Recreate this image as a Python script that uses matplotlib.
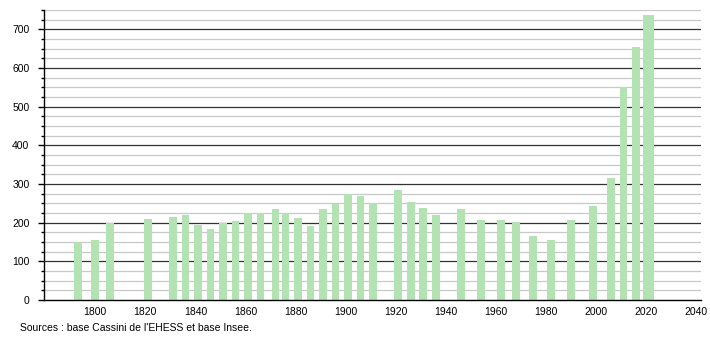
import matplotlib
matplotlib.use("Agg")
from matplotlib import pyplot as plt
from matplotlib.ticker import MultipleLocator

# census years and population
years = [1793, 1800, 1806, 1821, 1831, 1836, 1841, 1846, 1851, 1856, 1861, 1866,
         1872, 1876, 1881, 1886, 1891, 1896, 1901, 1906, 1911, 1921, 1926, 1931,
         1936, 1946, 1954, 1962, 1968, 1975, 1982, 1990, 1999, 2006, 2011, 2016, 2021]
population = [150, 156, 199, 210, 215, 219, 195, 184, 199, 205, 226, 226,
              236, 224, 213, 192, 235, 248, 274, 270, 252, 285, 254, 239,
              221, 236, 208, 208, 202, 166, 156, 208, 244, 316, 550, 654, 737]
x_ticks = [1800, 1820, 1840, 1860, 1880, 1900, 1920, 1940, 1960, 1980, 2000, 2020, 2040]
y_ticks = [0, 100, 200, 300, 400, 500, 600, 700]
source = "Sources : base Cassini de l'EHESS et base Insee."

plt.rcParams['font.family'] = ['Liberation Sans', 'DejaVu Sans']
plt.rcParams['font.size'] = 7.5

fig = plt.figure(figsize=(7.1, 3.4), dpi=100)
ax = fig.add_axes([44 / 710, 40 / 340, 657 / 710, 290 / 340])

# last bar is a bit wider in the original
widths = [3.1] * (len(years) - 1) + [4.3]
ax.bar(years, population, width=widths, color='#b3e3b3', linewidth=0, zorder=5)

ax.set_xlim(1779.5, 2042)
ax.set_ylim(0, 750)
ax.set_xticks(x_ticks)
ax.set_yticks(y_ticks)
ax.yaxis.set_minor_locator(MultipleLocator(25))

# grid lines drawn by hand so the bars sit on top: light every 25, dark every 100
minor = [v for v in ax.yaxis.get_minorticklocs() if 0 < v <= 750]
ax.hlines(minor, 0, 1, transform=ax.get_yaxis_transform(), color='#c8c8c8', linewidth=0.9, zorder=1)
ax.hlines(y_ticks[1:], 0, 1, transform=ax.get_yaxis_transform(), color='#333333', linewidth=0.9, zorder=2)

for s in ['top', 'right']:
    ax.spines[s].set_visible(False)
ax.spines['left'].set_linewidth(1)
ax.spines['bottom'].set_linewidth(1)
ax.spines['bottom'].set_zorder(6)

ax.tick_params(axis='x', length=0, pad=5)
ax.tick_params(axis='y', which='major', length=4.5, width=1, pad=6)
ax.tick_params(axis='y', which='minor', length=2, width=1)

fig.text(20 / 710, 1 - 328 / 340, source, fontsize=7.5, va='center', ha='left')

fig.savefig('out.png', dpi=100)
